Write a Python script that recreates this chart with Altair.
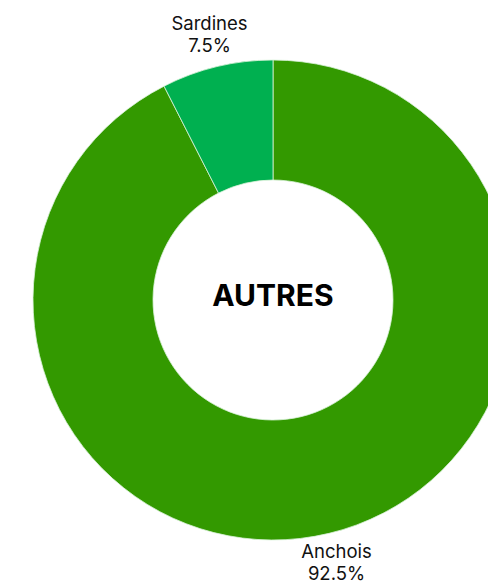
import altair as alt
import pandas as pd

categories = ["Anchois", "Sardines"]
values = [92.5, 7.5]
labels = ["Anchois\n92.5%", "Sardines\n7.5%"]
colors = ["#339900", "#00b050"]
title_text = "AUTRES"

df = pd.DataFrame({"cat": categories, "value": values, "label": labels, "order": [0, 1]})

cx, cy = 265, 292

base = alt.Chart(df).encode(
    theta=alt.Theta("value:Q", stack=True),
    order=alt.Order("order:Q"),
)

arcs = base.mark_arc(innerRadius=120, outerRadius=240, stroke="#d9f2d9", strokeWidth=0.8).encode(
    x=alt.value(cx), y=alt.value(cy),
    color=alt.Color("cat:N", scale=alt.Scale(domain=categories, range=colors), legend=None),
)

text = base.mark_text(radius=272, fontSize=18.5, font="Inter", color="#111111", dy=-12,
                      lineBreak="\n", baseline="middle", align="center", lineHeight=22).encode(
    x=alt.value(cx), y=alt.value(cy),
    text="label:N",
)

center = alt.Chart(pd.DataFrame({"t": [title_text]})).mark_text(
    fontSize=30, fontWeight="bold", font="Inter", color="#000000"
).encode(x=alt.value(cx), y=alt.value(cy - 3), text="t:N")

chart = (arcs + text + center).properties(
    width=480, height=577, padding=0, autosize=alt.AutoSizeParams(type="none")
).configure_view(stroke=None)

chart.save("out.html", embed_options={"renderer": "svg", "actions": False})
